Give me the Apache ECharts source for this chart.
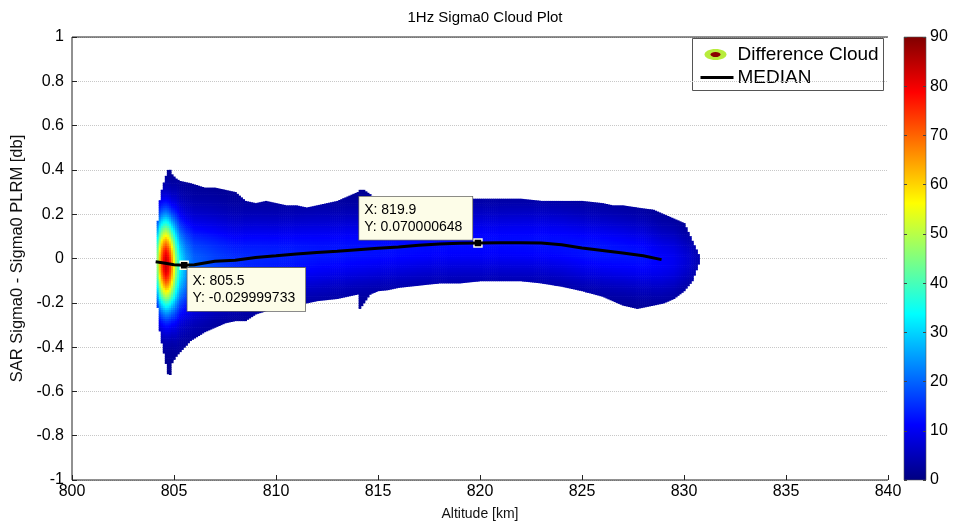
<!DOCTYPE html>
<html>
<head>
<meta charset="utf-8">
<script src="https://cdn.jsdelivr.net/npm/echarts@6/dist/echarts.min.js"></script>
<style>
  html, body { margin: 0; padding: 0; background: #fff; }
  #chart { width: 954px; height: 524px; }
</style>
</head>
<body>
<div id="chart"></div>
<script>
// Outline of the difference cloud: upper and lower limits per altitude (km, dB)
const envX = [804.15, 804.25, 804.4, 804.55, 804.7, 804.75, 804.9, 805.1, 805.3, 805.8, 806.5, 807, 807.5, 808, 808.5, 809, 809.5, 810, 810.5, 811, 811.5, 812, 812.5, 813, 813.5, 814, 814.1, 814.3, 814.6, 815, 815.5, 816, 816.5, 817, 818, 819, 820, 821, 822, 823, 824, 825, 826, 826.5, 827, 827.7, 828.5, 829, 829.5, 830, 830.4, 830.8];
const envUpper = [0.10, 0.24, 0.31, 0.36, 0.40, 0.41, 0.38, 0.36, 0.35, 0.34, 0.32, 0.32, 0.31, 0.30, 0.26, 0.25, 0.26, 0.25, 0.24, 0.24, 0.23, 0.24, 0.25, 0.26, 0.28, 0.30, 0.31, 0.31, 0.29, 0.26, 0.27, 0.27, 0.28, 0.28, 0.28, 0.27, 0.27, 0.27, 0.27, 0.26, 0.26, 0.26, 0.25, 0.24, 0.24, 0.23, 0.22, 0.20, 0.18, 0.16, 0.08, 0.0];
const envLower = [-0.14, -0.30, -0.38, -0.45, -0.52, -0.55, -0.47, -0.44, -0.42, -0.37, -0.33, -0.31, -0.29, -0.28, -0.28, -0.25, -0.235, -0.22, -0.21, -0.20, -0.20, -0.19, -0.185, -0.18, -0.17, -0.16, -0.225, -0.20, -0.16, -0.145, -0.14, -0.13, -0.125, -0.12, -0.11, -0.11, -0.10, -0.10, -0.10, -0.11, -0.125, -0.145, -0.17, -0.19, -0.21, -0.225, -0.21, -0.20, -0.18, -0.145, -0.10, 0.0];

// Point density along the cloud: peak count and vertical spread (dB)
const densX = [804.15, 804.3, 804.45, 804.6, 804.75, 804.9, 805.1, 805.3, 805.6, 806, 807, 808, 810, 812, 815, 818, 821, 824, 826, 828, 829.5, 830.3, 830.8];
const densPeak = [40, 62, 78, 84, 80, 66, 46, 33, 25, 20, 17, 15, 14, 13, 12.5, 12, 12, 12.5, 13, 12.5, 10, 7, 4];
const densSpread = [0.13, 0.14, 0.14, 0.14, 0.14, 0.14, 0.15, 0.15, 0.15, 0.15, 0.14, 0.13, 0.12, 0.12, 0.11, 0.11, 0.11, 0.11, 0.11, 0.11, 0.10, 0.08, 0.06];

// Median of the differences per altitude
const medianX = [804.1, 804.5, 805.0, 805.5, 806.0, 806.5, 807.0, 808.0, 809.0, 810.0, 811.0, 812.0, 813.0, 814.0, 815.0, 816.0, 817.0, 818.0, 819.0, 819.9, 821.0, 822.0, 823.0, 824.0, 825.0, 826.0, 827.0, 828.0, 828.9];
const medianY = [-0.015, -0.02, -0.028, -0.029999733, -0.028, -0.02, -0.012, -0.008, 0.005, 0.012, 0.02, 0.027, 0.033, 0.04, 0.046, 0.052, 0.06, 0.066, 0.069, 0.070000648, 0.071, 0.071, 0.07, 0.062, 0.047, 0.036, 0.025, 0.012, -0.005];

// Data tips
const tipX = [805.5, 819.9];
const tipY = [-0.029999733, 0.070000648];

// Axis ranges and ticks
const xTicks = { min: 800, max: 840, step: 5 };
const yTicks = { min: -1, max: 1, step: 0.2 };
const cbTicks = { min: 0, max: 90, step: 10 };

// Jet colour map
const jet = ['#000080', '#0000ff', '#0080ff', '#00ffff', '#80ff80', '#ffff00', '#ff8000', '#ff0000', '#800000'];

function interp(xs, ys, x) {
  if (x <= xs[0]) return ys[0];
  if (x >= xs[xs.length - 1]) return ys[ys.length - 1];
  for (let i = 1; i < xs.length; i++) {
    if (x <= xs[i]) {
      const t = (x - xs[i - 1]) / (xs[i] - xs[i - 1]);
      return ys[i - 1] + t * (ys[i] - ys[i - 1]);
    }
  }
  return ys[ys.length - 1];
}

// Build the density cells of the cloud
const dx = 0.1, dy = 0.01, base = 1.2;
const cells = [];
const x0Start = envX[0], x0End = envX[envX.length - 1];
const nCols = Math.round((x0End - x0Start) / dx);
for (let i = 0; i < nCols; i++) {
  const xa = +(x0Start + i * dx).toFixed(3);
  const xb = +(xa + dx).toFixed(3);
  const xc = (xa + xb) / 2;
  const hi = interp(envX, envUpper, xc);
  const lo = interp(envX, envLower, xc);
  if (hi - lo < dy * 0.5) continue;
  const c = interp(medianX, medianY, xc);
  const p = interp(densX, densPeak, xc);
  const s = interp(densX, densSpread, xc);
  const j0 = Math.floor(lo / dy), j1 = Math.ceil(hi / dy);
  for (let j = j0; j < j1; j++) {
    const ya = Math.max(j * dy, lo);
    const yb = Math.min((j + 1) * dy, hi);
    if (yb <= ya) continue;
    const yc = (ya + yb) / 2;
    const v = base + (p - base) * Math.exp(-0.5 * Math.pow((yc - c) / s, 2));
    cells.push([xa, ya, xb, yb, v]);
  }
}

const FONT = 'Liberation Sans, Arial, Helvetica, sans-serif';
const chart = echarts.init(document.getElementById('chart'), null, { renderer: 'canvas' });

const medianData = medianX.map((x, i) => [x, medianY[i]]);

const tipStyle = {
  show: true,
  color: '#000',
  fontFamily: FONT,
  fontSize: 14,
  lineHeight: 17,
  align: 'left',
  verticalAlign: 'top',
  backgroundColor: '#fdfde8',
  borderColor: '#666',
  borderWidth: 0.8,
  padding: [5, 10, 4, 5]
};

const tickStyle = { show: true, inside: true, length: 5, lineStyle: { color: '#222' } };

chart.setOption({
  animation: false,
  backgroundColor: '#fff',
  textStyle: { fontFamily: FONT },
  title: {
    text: '1Hz Sigma0 Cloud Plot',
    left: 480, top: 5, textAlign: 'center',
    textStyle: { fontFamily: FONT, fontSize: 15, fontWeight: 'normal', color: '#000' }
  },
  grid: [
    { left: 72, top: 37, width: 816, height: 443, outerBoundsMode: 'none', containLabel: false },
    { left: 904, top: 37, width: 22, height: 443, outerBoundsMode: 'none', containLabel: false }
  ],
  xAxis: [
    {
      gridIndex: 0, type: 'value', position: 'bottom', min: xTicks.min, max: xTicks.max, interval: xTicks.step,
      axisLine: { show: false, onZero: false },
      axisTick: tickStyle,
      axisLabel: { color: '#000', fontSize: 16, margin: 4, fontFamily: FONT },
      splitLine: { show: false },
      name: 'Altitude [km]', nameLocation: 'middle', nameGap: 27,
      nameTextStyle: { color: '#111', fontSize: 14, fontFamily: FONT }
    },
    {
      gridIndex: 1, type: 'value', min: 0, max: 1, show: false,
      axisLine: { show: false, onZero: false }, splitLine: { show: false }
    }
  ],
  yAxis: [
    {
      gridIndex: 0, type: 'value', position: 'left', min: yTicks.min, max: yTicks.max, interval: yTicks.step,
      axisLine: { show: false, onZero: false },
      axisTick: tickStyle,
      axisLabel: {
        color: '#000', fontSize: 16, margin: 8, fontFamily: FONT,
        formatter: v => String(+v.toFixed(1))
      },
      splitLine: { show: true, lineStyle: { type: 'dotted', color: '#c8c8c8', width: 1 } },
      name: 'SAR Sigma0 - Sigma0 PLRM [db]', nameLocation: 'middle', nameGap: 46, nameRotate: 90,
      nameTextStyle: { color: '#111', fontSize: 16.5, fontFamily: FONT }
    },
    {
      gridIndex: 1, type: 'value', position: 'right', min: cbTicks.min, max: cbTicks.max, interval: cbTicks.step,
      z: 10,
      axisLine: { show: false, onZero: false },
      axisTick: { show: true, inside: true, length: 3, lineStyle: { color: '#444' } },
      axisLabel: { color: '#000', fontSize: 16, margin: 4, fontFamily: FONT },
      splitLine: { show: false }
    },
    {
      gridIndex: 1, type: 'value', position: 'left', min: cbTicks.min, max: cbTicks.max, interval: cbTicks.step,
      z: 10,
      axisLine: { show: false, onZero: false },
      axisTick: { show: true, inside: true, length: 3, lineStyle: { color: '#444' } },
      axisLabel: { show: false },
      splitLine: { show: false }
    }
  ],
  visualMap: {
    type: 'continuous', show: false, min: cbTicks.min, max: cbTicks.max,
    dimension: 4, seriesIndex: 0, inRange: { color: jet }
  },
  series: [
    {
      name: 'Difference Cloud',
      type: 'custom',
      xAxisIndex: 0, yAxisIndex: 0,
      coordinateSystem: 'cartesian2d',
      data: cells,
      encode: { x: [0, 2], y: [1, 3] },
      progressive: 0,
      clip: true,
      z: 2,
      renderItem: function (params, api) {
        const a = api.coord([api.value(0), api.value(3)]);
        const b = api.coord([api.value(2), api.value(1)]);
        return {
          type: 'rect',
          shape: { x: a[0], y: a[1], width: b[0] - a[0] + 0.6, height: b[1] - a[1] + 0.6 },
          style: { fill: api.visual('color') }
        };
      }
    },
    {
      name: 'MEDIAN',
      type: 'line',
      xAxisIndex: 0, yAxisIndex: 0,
      data: medianData,
      showSymbol: false,
      symbol: 'none',
      z: 5,
      lineStyle: { color: '#000', width: 3 },
      markPoint: {
        symbol: 'rect',
        symbolSize: 8,
        itemStyle: { color: '#000', borderColor: '#fdfde8', borderWidth: 1.5 },
        data: [
          {
            coord: [tipX[0], tipY[0]],
            label: Object.assign({}, tipStyle, {
              position: [8, 7.5],
              formatter: 'X: ' + tipX[0] + '\nY: ' + tipY[0]
            })
          },
          {
            coord: [tipX[1], tipY[1]],
            label: Object.assign({}, tipStyle, {
              position: [-114, -41.5],
              formatter: 'X: ' + tipX[1] + '\nY: ' + tipY[1]
            })
          }
        ]
      }
    },
    {
      // axes box: left, bottom and top edges of the plot
      name: 'frame',
      type: 'custom',
      xAxisIndex: 0, yAxisIndex: 0,
      coordinateSystem: 'cartesian2d',
      data: [[xTicks.min, yTicks.min, xTicks.max, yTicks.max]],
      encode: { x: [0, 2], y: [1, 3] },
      silent: true,
      clip: false,
      z: 6,
      renderItem: function (params, api) {
        const bl = api.coord([api.value(0), api.value(1)]);
        const br = api.coord([api.value(2), api.value(1)]);
        const tl = api.coord([api.value(0), api.value(3)]);
        const tr = api.coord([api.value(2), api.value(3)]);
        const st = { stroke: '#222', lineWidth: 1 };
        return {
          type: 'group',
          children: [
            { type: 'line', shape: { x1: tl[0], y1: tl[1], x2: bl[0], y2: bl[1] }, style: st },
            { type: 'line', shape: { x1: bl[0], y1: bl[1], x2: br[0], y2: br[1] }, style: st },
            { type: 'line', shape: { x1: tl[0], y1: tl[1], x2: tr[0], y2: tr[1] }, style: st }
          ]
        };
      }
    },
    {
      name: 'colorbar',
      type: 'custom',
      xAxisIndex: 1, yAxisIndex: 1,
      coordinateSystem: 'cartesian2d',
      data: [[0, cbTicks.min, 1, cbTicks.max]],
      encode: { x: [0, 2], y: [1, 3] },
      z: 2,
      renderItem: function (params, api) {
        const a = api.coord([api.value(0), api.value(3)]);
        const b = api.coord([api.value(2), api.value(1)]);
        const stops = jet.map((c, i) => ({ offset: i / (jet.length - 1), color: c }));
        return {
          type: 'rect',
          shape: { x: a[0], y: a[1], width: b[0] - a[0], height: b[1] - a[1] },
          style: {
            fill: new echarts.graphic.LinearGradient(0, 1, 0, 0, stops),
            stroke: '#555', lineWidth: 0.6
          }
        };
      }
    }
  ],
  graphic: [
    {
      type: 'group', left: 692, top: 38, z: 20,
      children: [
        { type: 'rect', shape: { x: 0, y: 0, width: 191, height: 52 }, style: { fill: '#fff', stroke: '#555', lineWidth: 1 } },
        { type: 'ellipse', shape: { cx: 23, cy: 16, rx: 11, ry: 5.5 }, style: { fill: '#b8ec3c' } },
        { type: 'ellipse', shape: { cx: 23, cy: 16, rx: 5, ry: 2.6 }, style: { fill: '#8a0000' } },
        { type: 'text', style: { x: 45, y: 16, text: 'Difference Cloud', fill: '#000', font: '19px ' + FONT, verticalAlign: 'middle' } },
        { type: 'line', shape: { x1: 8, y1: 39, x2: 41, y2: 39 }, style: { stroke: '#000', lineWidth: 3 } },
        { type: 'text', style: { x: 45, y: 39, text: 'MEDIAN', fill: '#000', font: '19px ' + FONT, verticalAlign: 'middle' } }
      ]
    }
  ]
});
</script>
</body>
</html>
